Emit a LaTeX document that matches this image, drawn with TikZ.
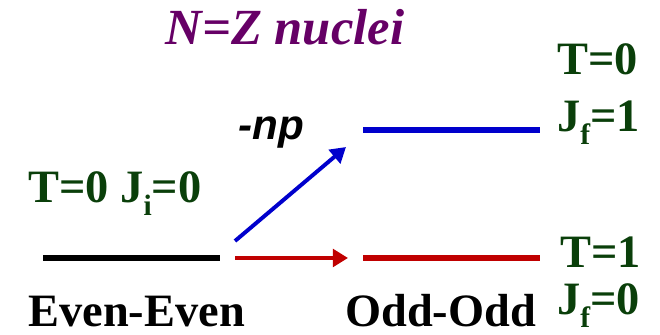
\documentclass[tikz,border=0pt]{standalone}
\usepackage{fontspec}
\setmainfont{Liberation Serif}
\newfontfamily\arialfont{Liberation Sans}
\usetikzlibrary{arrows.meta}
\definecolor{nzgreen}{HTML}{0A3F0A}
\definecolor{nzpurple}{HTML}{660066}
\definecolor{nzblue}{HTML}{0000CC}
\definecolor{nzred}{HTML}{C00000}
\newcommand{\lowidx}[1]{\raisebox{-0.26em}{\fontsize{21}{21}\selectfont #1}}
\tikzset{
  level/.style={line width=4.2pt,draw=#1},
  level/.default=black,
  trans/.style={-{Triangle[length=3.8mm,width=4.4mm]},line width=2.8pt,draw=#1},
  qnum/.style={anchor=base west,inner sep=0pt,text=nzgreen,font=\fontsize{33}{36}\selectfont\bfseries},
  label/.style={anchor=base west,inner sep=0pt,font=\fontsize{33}{36}\selectfont\bfseries}
}
\begin{document}
\begin{tikzpicture}
\useasboundingbox (0,0) rectangle (16.5,8.375);
% title
\node[inner sep=0pt,text=nzpurple,font=\fontsize{36}{40}\selectfont\bfseries\itshape] (title) at (7.125,7.7) {N=Z nuclei};
% levels
\coordinate (eeL) at (1.075,1.925);
\coordinate (eeR) at (5.5,1.925);
\coordinate (ooupL) at (9.075,5.125);
\coordinate (ooupR) at (13.5,5.125);
\coordinate (oolowL) at (9.075,1.925);
\coordinate (oolowR) at (13.5,1.925);
\draw[level] (eeL) -- (eeR);
\draw[level=nzblue] (ooupL) -- (ooupR);
\draw[level=nzred] (oolowL) -- (oolowR);
% transitions
\coordinate (srcup) at (5.875,2.35);
\coordinate (srclow) at (5.875,1.925);
\coordinate (dstup) at (8.65,4.7);
\coordinate (dstlow) at (8.7,1.925);
\draw[trans=nzblue] (srcup) -- (dstup);
\draw[trans=nzred] (srclow) -- (dstlow);
\node[anchor=base west,inner sep=0pt,font=\fontsize{30}{34}\selectfont\arialfont\bfseries\itshape] (np) at (5.95,4.875) {-np};
% quantum numbers
\node[qnum] (initq) at (0.7,3.3) {T=0 J\lowidx{i}=0};
\node[qnum] (upT) at (13.925,6.5) {T=0};
\node[qnum] (upJ) at (13.925,5.075) {J\lowidx{f}=1};
\node[qnum] (lowT) at (14.0,1.675) {T=1};
\node[qnum] (lowJ) at (13.925,0.5) {J\lowidx{f}=0};
% nuclei
\node[label] (even) at (0.7,0.2) {Even-Even};
\node[label] (odd) at (8.625,0.2) {Odd-Odd};
\end{tikzpicture}
\end{document}
